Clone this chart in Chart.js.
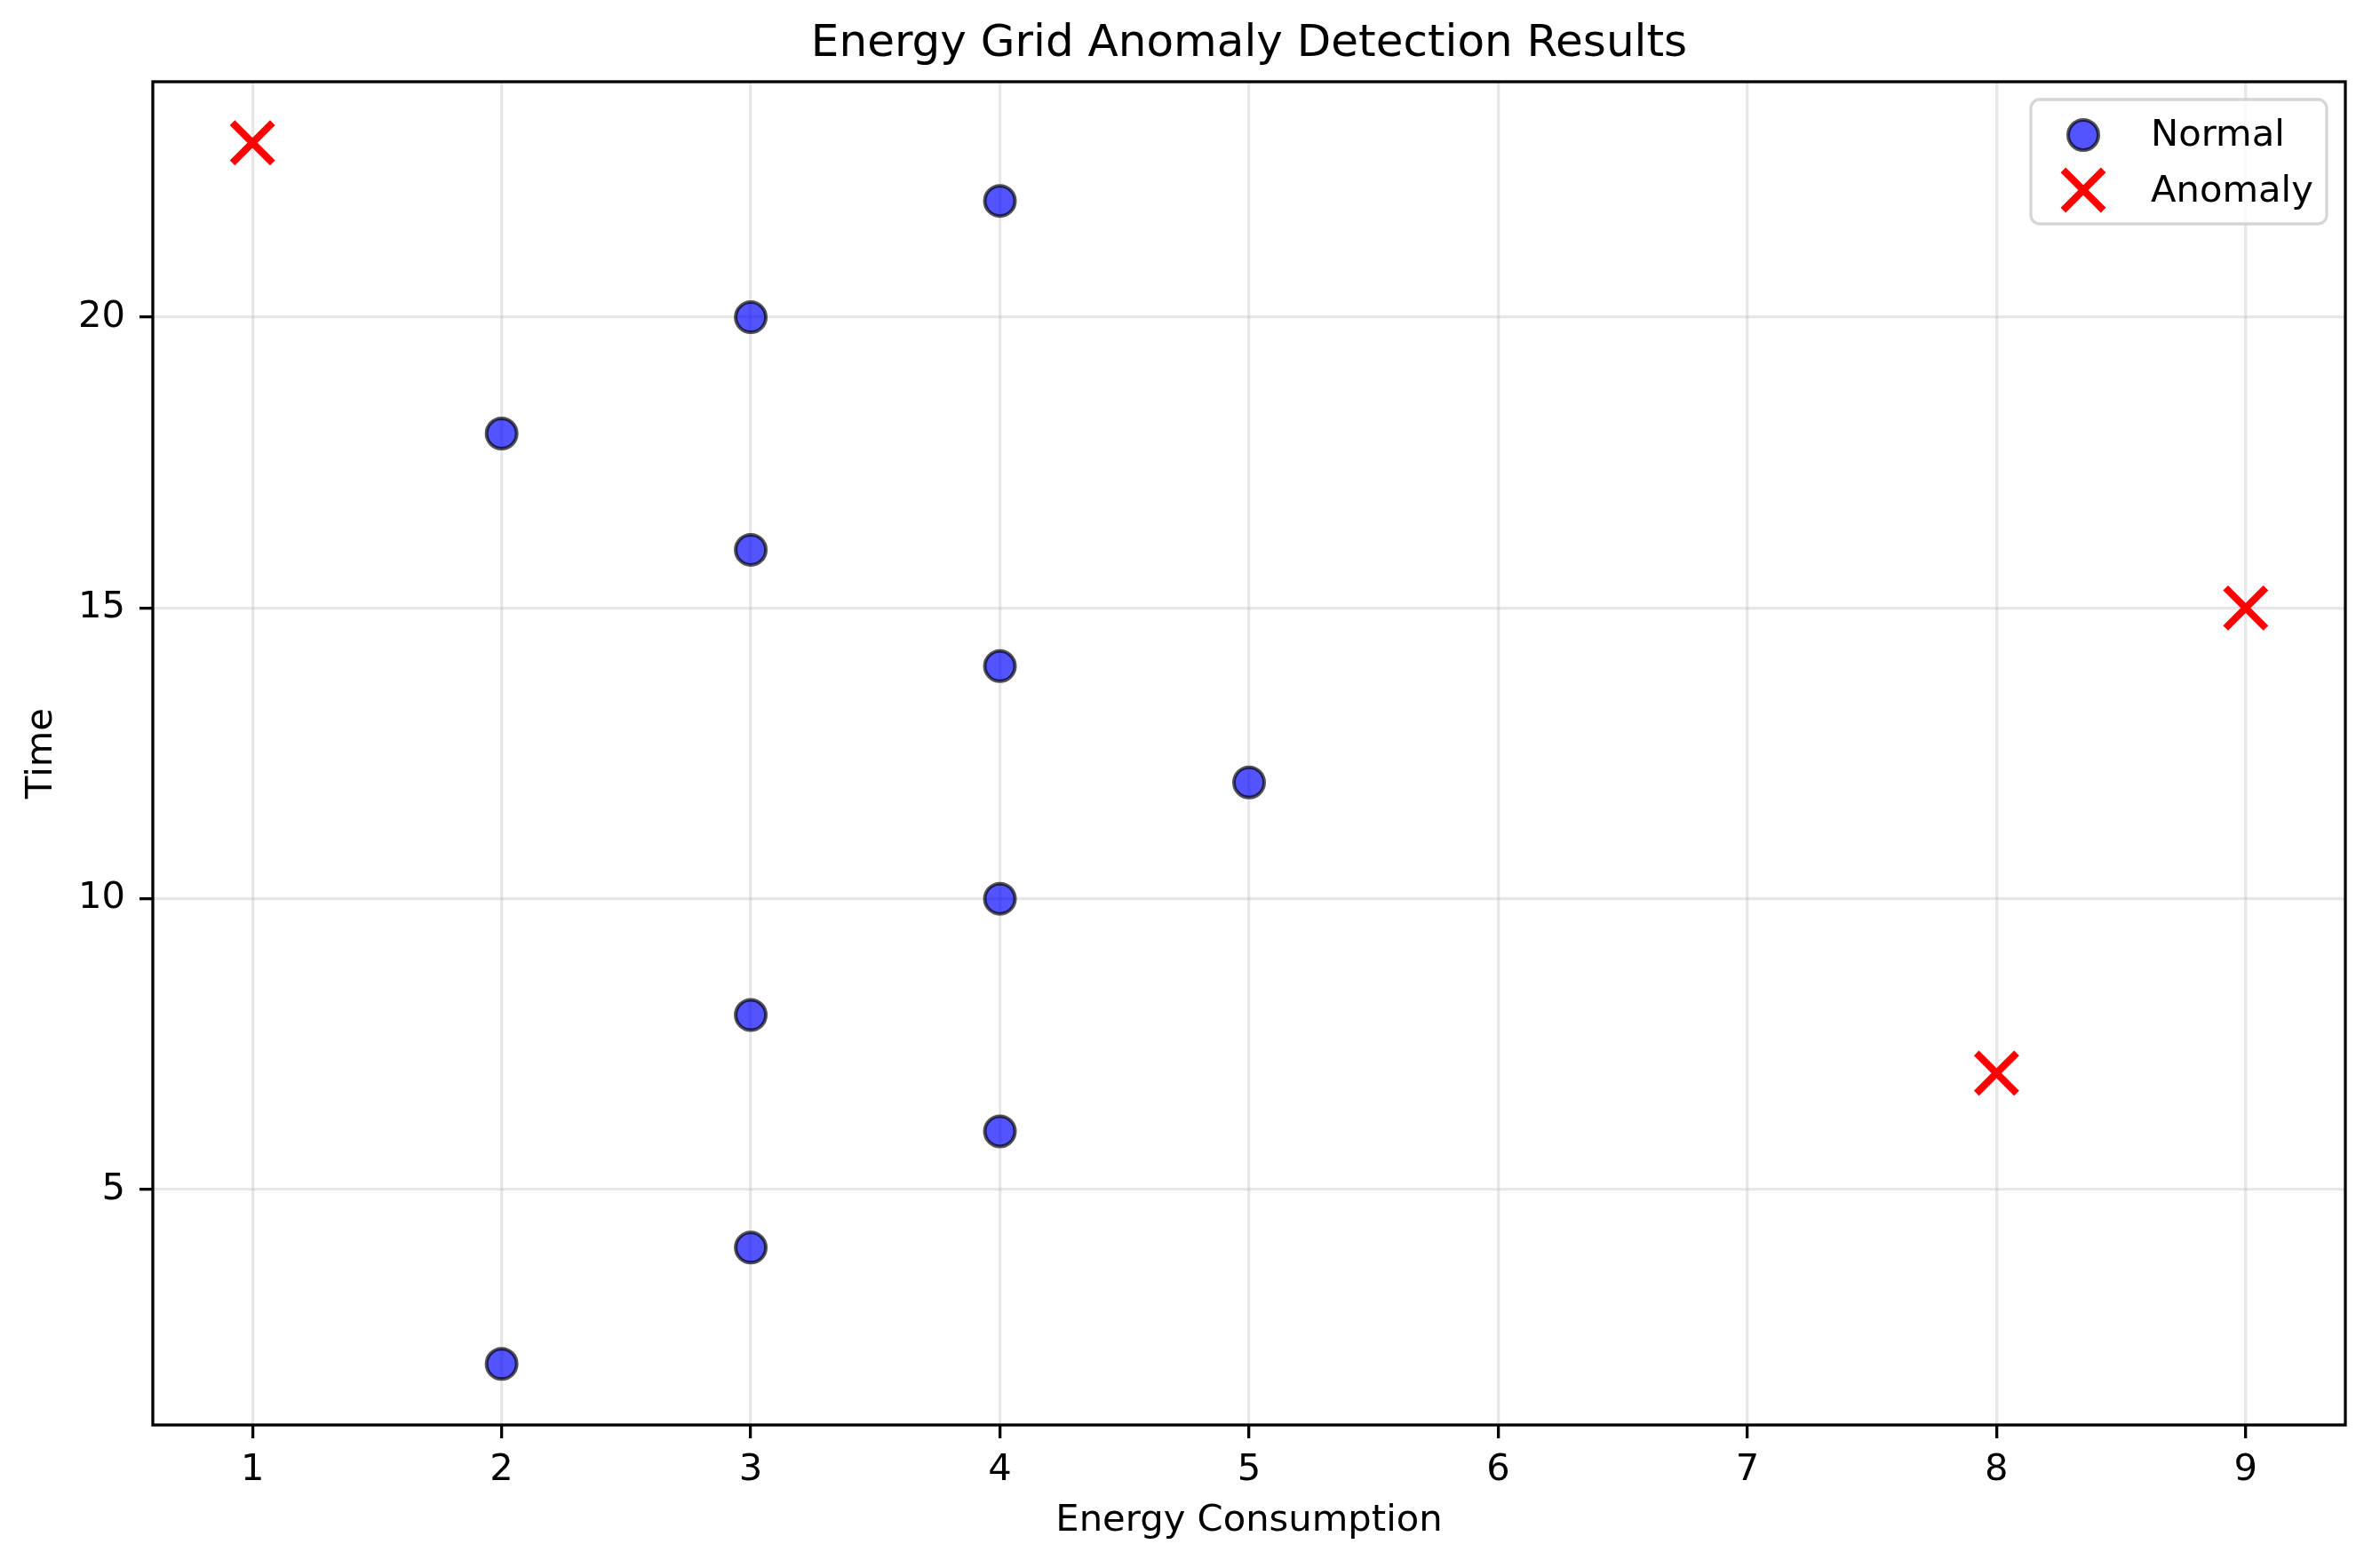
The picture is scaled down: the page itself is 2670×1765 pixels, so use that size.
<!DOCTYPE html>
<html>
<head>
<meta charset="utf-8">
<script src="https://cdn.jsdelivr.net/npm/chart.js@4.4.0/dist/chart.umd.min.js"></script>
<style>
  html, body { margin: 0; padding: 0; background: #fff; }
  #wrap { width: 2670px; height: 1765px; }
</style>
</head>
<body>
<div id="wrap"><canvas id="scatterCanvas" width="2670" height="1765"></canvas></div>
<script>
// normal readings (energy consumption, time)
const normalEnergy = [4, 3, 2, 3, 4, 5, 4, 3, 4, 3, 2];
const normalTime = [22, 20, 18, 16, 14, 12, 10, 8, 6, 4, 2];
// anomalies
const anomalyEnergy = [1, 9, 8];
const anomalyTime = [23, 15, 7];

const FONT = "'DejaVu Sans', sans-serif";

const toPoints = (xs, ys) => xs.map((x, i) => ({ x: x, y: ys[i] }));

// frame around the plot area + legend box in upper right
const framePlugin = {
    id: 'frame',
    afterDraw(chart) {
        const ctx = chart.ctx;
        const a = chart.chartArea;
        ctx.save();
        ctx.strokeStyle = '#000';
        ctx.lineWidth = 3.3;
        ctx.strokeRect(a.left, a.top, a.right - a.left, a.bottom - a.top);

        // legend
        const bx = a.right - 354, by = a.top + 20, bw = 333, bh = 140, r = 10;
        ctx.beginPath();
        ctx.moveTo(bx + r, by);
        ctx.arcTo(bx + bw, by, bx + bw, by + bh, r);
        ctx.arcTo(bx + bw, by + bh, bx, by + bh, r);
        ctx.arcTo(bx, by + bh, bx, by, r);
        ctx.arcTo(bx, by, bx + bw, by, r);
        ctx.closePath();
        ctx.fillStyle = 'rgba(255,255,255,0.8)';
        ctx.fill();
        ctx.strokeStyle = 'rgba(204,204,204,0.8)';
        ctx.lineWidth = 3.3;
        ctx.stroke();

        const ds = chart.data.datasets;
        const mx = bx + 59;
        // Normal marker
        ctx.beginPath();
        ctx.arc(mx, by + 40, ds[0].pointRadius, 0, Math.PI * 2);
        ctx.fillStyle = ds[0].backgroundColor;
        ctx.fill();
        ctx.strokeStyle = ds[0].borderColor;
        ctx.lineWidth = ds[0].borderWidth;
        ctx.stroke();
        // Anomaly marker
        const d = ds[1].pointRadius / Math.SQRT2;
        const cy = by + 102;
        ctx.beginPath();
        ctx.moveTo(mx - d, cy - d); ctx.lineTo(mx + d, cy + d);
        ctx.moveTo(mx + d, cy - d); ctx.lineTo(mx - d, cy + d);
        ctx.strokeStyle = ds[1].borderColor;
        ctx.lineWidth = ds[1].borderWidth;
        ctx.stroke();

        ctx.fillStyle = '#000';
        ctx.font = '41.7px ' + FONT;
        ctx.textBaseline = 'middle';
        ctx.textAlign = 'left';
        ctx.fillText(ds[0].label, bx + 135, by + 41);
        ctx.fillText(ds[1].label, bx + 135, by + 104);
        ctx.restore();
    }
};

const scatterChart = new Chart(document.getElementById('scatterCanvas').getContext('2d'), {
    type: 'scatter',
    data: {
        datasets: [{
            label: 'Normal',
            data: toPoints(normalEnergy, normalTime),
            pointStyle: 'circle',
            pointRadius: 17,
            pointHoverRadius: 17,
            backgroundColor: 'rgba(0,0,255,0.67)',
            borderColor: 'rgba(0,0,0,0.67)',
            borderWidth: 4
        }, {
            label: 'Anomaly',
            data: toPoints(anomalyEnergy, anomalyTime),
            pointStyle: 'crossRot',
            pointRadius: 32,
            pointHoverRadius: 32,
            backgroundColor: 'rgba(255,0,0,1)',
            borderColor: 'rgba(255,0,0,1)',
            borderWidth: 8
        }]
    },
    options: {
        responsive: false,
        animation: false,
        devicePixelRatio: 1,
        events: [],
        layout: { autoPadding: false, padding: { left: 0, right: 30, top: 0, bottom: 0 } },
        plugins: {
            legend: { display: false },
            tooltip: { enabled: false },
            title: {
                display: true,
                fullSize: false,
                text: 'Energy Grid Anomaly Detection Results',
                color: '#000',
                font: { family: FONT, size: 50, weight: 'normal', lineHeight: 1.2 },
                padding: { top: 20, bottom: 12 }
            }
        },
        scales: {
            x: {
                type: 'linear',
                min: 0.6,
                max: 9.4,
                afterFit(scale) { scale.height = 161; },
                border: { display: false },
                grid: {
                    color: 'rgba(176,176,176,0.3)',
                    lineWidth: 3.3,
                    tickColor: '#000',
                    tickWidth: 3.3,
                    tickLength: 15
                },
                ticks: {
                    stepSize: 1,
                    includeBounds: false,
                    color: '#000',
                    padding: 11,
                    font: { family: FONT, size: 41.7 }
                },
                title: {
                    display: true,
                    text: 'Energy Consumption',
                    color: '#000',
                    font: { family: FONT, size: 41.7, lineHeight: 1.2 },
                    padding: { top: 0, bottom: 28 }
                }
            },
            y: {
                type: 'linear',
                min: 0.95,
                max: 24.05,
                afterFit(scale) { scale.width = 172; },
                border: { display: false },
                grid: {
                    color: 'rgba(176,176,176,0.3)',
                    lineWidth: 3.3,
                    tickColor: '#000',
                    tickWidth: 3.3,
                    tickLength: 15
                },
                ticks: {
                    stepSize: 5,
                    includeBounds: false,
                    color: '#000',
                    padding: 16,
                    font: { family: FONT, size: 41.7 }
                },
                title: {
                    display: true,
                    text: 'Time',
                    color: '#000',
                    font: { family: FONT, size: 41.7, lineHeight: 1.2 },
                    padding: { top: 22, bottom: 0 }
                }
            }
        }
    },
    plugins: [framePlugin]
});
</script>
</body>
</html>
